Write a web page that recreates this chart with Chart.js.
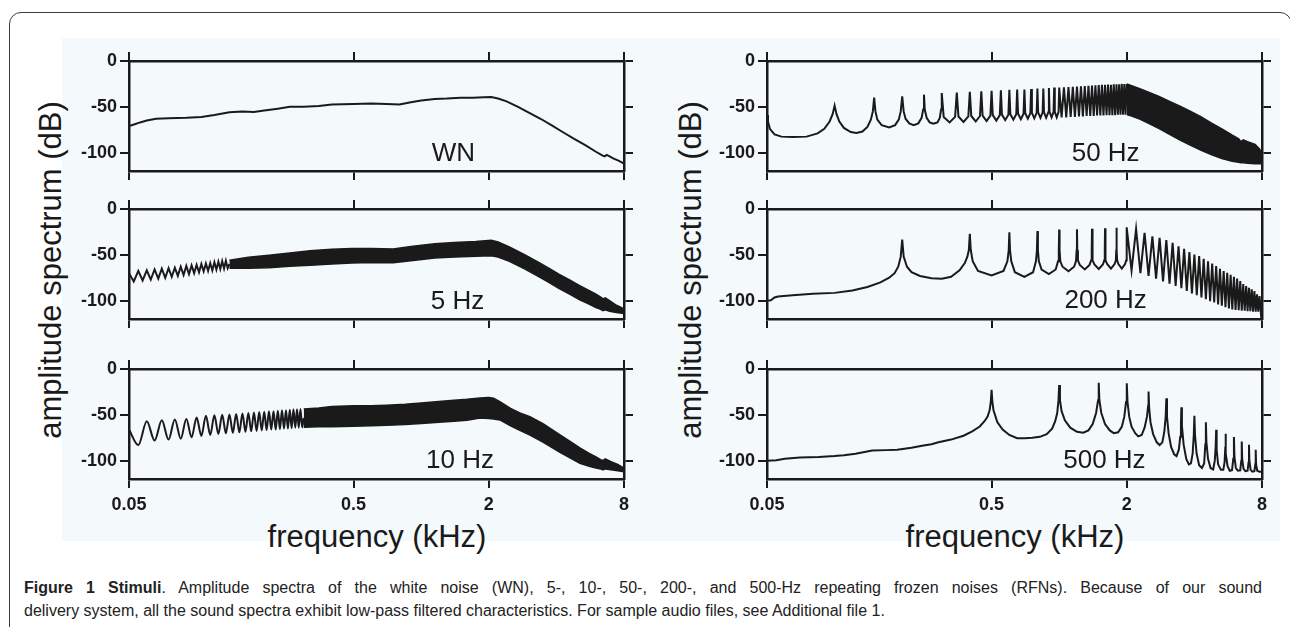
<!DOCTYPE html>
<html>
<head>
<meta charset="utf-8">
<script src="https://cdn.jsdelivr.net/npm/chart.js@4.4.1/dist/chart.umd.min.js"></script>
<style>
  body { margin:0; width:1290px; height:627px; overflow:hidden; background:#fff; position:relative;
         font-family:'Liberation Sans', Arial, sans-serif; }
  #frame { position:absolute; left:9px; top:12px; width:1283px; height:700px; box-sizing:border-box;
           border:1.5px solid #3c3c3c; border-radius:12px; }
  #figbg { position:absolute; left:62px; top:38px; width:1218px; height:503px; background:#f4f9fc; }
  canvas { position:absolute; }
  .ytitle { position:absolute; top:270px; font-size:31px; line-height:31px; color:#1a1a1a; white-space:nowrap;
            transform:translate(-50%,-50%) rotate(-90deg); }
  .xtitle { position:absolute; top:521px; font-size:31px; line-height:31px; color:#1a1a1a; white-space:nowrap;
            transform:translateX(-50%); }
  #caption { position:absolute; left:24px; top:576px; width:1238px; color:#222;
             font-family:'Liberation Sans Narrow','Liberation Sans',Arial,sans-serif; font-size:16px; line-height:23px; }
  #caption .l1 { text-align:justify; text-align-last:justify; }
</style>
</head>
<body>
<div id="frame"></div>
<div id="figbg"></div>
<div class="ytitle" style="left:50px">amplitude spectrum (dB)</div>
<div class="ytitle" style="left:690px">amplitude spectrum (dB)</div>
<div class="xtitle" style="left:377px">frequency (kHz)</div>
<div class="xtitle" style="left:1015px">frequency (kHz)</div>
<div id="caption">
  <div class="l1"><b>Figure 1 Stimuli</b>. Amplitude spectra of the white noise (WN), 5-, 10-, 50-, 200-, and 500-Hz repeating frozen noises (RFNs). Because of our sound</div>
  <div>delivery system, all the sound spectra exhibit low-pass filtered characteristics. For sample audio files, see Additional file 1.</div>
</div>
<script>
// axis ticks
const xTickValues = [0.05, 0.5, 2, 8];
const xTickLabels = ['0.05', '0.5', '2', '8'];
const yTickValues = [-100, -50, 0];
const yTickLabels = ['-100', '-50', '0'];

// white noise (kHz / dB)
const wnFreq = [0.05, 0.053, 0.056, 0.06, 0.066, 0.075, 0.09, 0.105, 0.12, 0.14, 0.16, 0.18, 0.2, 0.23, 0.26, 0.3,
  0.35, 0.4, 0.5, 0.6, 0.7, 0.8, 0.9, 1.0, 1.15, 1.3, 1.5, 1.7, 1.9, 2.05, 2.2, 2.4, 2.7, 3.0, 3.4, 3.8,
  4.3, 4.8, 5.4, 6.0, 6.4, 6.55, 6.7, 6.9, 7.2, 7.6, 8.0];
const wnDb = [-71, -69, -67, -65, -63, -62.5, -62, -61, -59, -56, -55, -55.5, -54, -52, -50, -50,
  -49, -47.5, -47, -46.5, -47, -47.5, -45, -43, -41.5, -41, -40, -40, -39.5, -39.3, -41, -44, -50, -56, -63, -70,
  -78, -85, -92, -99, -103, -104, -102.5, -104, -106.5, -109, -112];

// 5 Hz RFN: resolved low harmonics, then dense band
const hz5Freq = [0.05, 0.0525, 0.055, 0.0575, 0.06, 0.0625, 0.065, 0.0675, 0.07, 0.0725,
  0.075, 0.0775, 0.08, 0.0825, 0.085, 0.0875, 0.09, 0.0925, 0.095, 0.0975,
  0.1, 0.1025, 0.105, 0.1075, 0.11, 0.1125, 0.115, 0.1175, 0.12, 0.1225,
  0.125, 0.1275, 0.13, 0.1325, 0.135, 0.1375, 0.14];
const hz5Db = [-70, -79, -67.5, -78, -67, -77, -66, -76, -65, -75,
  -64.5, -74, -64, -73, -63, -72, -62, -71, -61.5, -70,
  -61, -69, -60, -68, -59.5, -67.5, -59, -67, -58, -66,
  -57.5, -65.5, -57, -65, -56.5, -64.5, -60];
const hz5BandFreq = [0.14, 0.17, 0.21, 0.26, 0.32, 0.4, 0.49, 0.6, 0.75, 0.9,
  1.15, 1.4, 1.75, 2.05, 2.2, 2.47, 2.9, 3.32, 3.7, 4.1,
  4.6, 5.08, 5.5, 6.0, 6.3, 6.45, 6.6, 6.9, 7.4, 8.0];
const hz5BandTop = [-56, -52.5, -50.5, -48, -45.5, -44, -43, -43, -43.5, -41,
  -38, -36.5, -35.5, -34, -36, -41.5, -50, -58, -64.5, -71,
  -77.5, -83.5, -88, -93, -96, -98, -97, -100, -105, -109];
const hz5BandBottom = [-64.5, -64.5, -64, -62.5, -61.5, -60, -59, -58.5, -58.5, -56.5,
  -53.5, -52.5, -51.5, -51, -52.5, -57, -65.5, -73.5, -80, -86.5,
  -93, -99, -103, -107.5, -109.5, -111, -110, -111.5, -113, -114];

// 10 Hz RFN
const hz10Freq = [0.05, 0.055, 0.06, 0.065, 0.07, 0.075, 0.08, 0.085, 0.09, 0.095,
  0.1, 0.105, 0.11, 0.115, 0.12, 0.125, 0.13, 0.135, 0.14, 0.145,
  0.15, 0.155, 0.16, 0.165, 0.17, 0.175, 0.18, 0.185, 0.19, 0.195,
  0.2, 0.205, 0.21, 0.215, 0.22, 0.225, 0.23, 0.235, 0.24, 0.245,
  0.25, 0.255, 0.26, 0.265, 0.27, 0.275, 0.28, 0.285, 0.29, 0.295,
  0.3];
const hz10Db = [-66, -83, -57, -78, -56, -77, -55, -76, -54.5, -74.5,
  -53, -73, -51, -72, -50.5, -71, -50, -70, -49.5, -69.5,
  -49, -69, -48.5, -68.5, -48, -68, -47.5, -67.5, -47, -67,
  -46.5, -66.5, -46, -66, -46, -66, -45.5, -65.5, -45, -65,
  -45, -65, -44.5, -64.5, -44, -64, -44, -64, -43.5, -63.5,
  -53.5];
const hz10BandFreq = [0.3, 0.35, 0.4, 0.5, 0.6, 0.7, 0.85, 1.0, 1.2, 1.4,
  1.6, 1.83, 2.0, 2.1, 2.24, 2.5, 2.75, 3.05, 3.5, 4.15,
  4.6, 5.09, 5.6, 6.0, 6.3, 6.45, 6.6, 7.0, 7.5, 8.0];
const hz10BandTop = [-43.5, -42.5, -41, -40, -40, -39.5, -38.5, -37, -35.5, -34,
  -33, -31.6, -31, -32, -35.6, -43, -48, -52, -60, -72,
  -79, -86, -92, -96, -99, -100, -98, -101, -104, -108];
const hz10BandBottom = [-63.5, -63, -63, -62.5, -62, -61.5, -60.5, -59.5, -58, -57,
  -56, -53.4, -54, -54.5, -55.6, -62, -67, -72, -80, -91,
  -97, -103, -106, -108, -109, -110, -109, -110, -111, -112];

// 50 Hz RFN: harmonic comb up to 2 kHz, then dense band
const hz50Freq = [
  0.05, 0.0505, 0.0515, 0.054, 0.058, 0.065, 0.075, 0.084, 0.09, 0.095, 0.098,
  0.1, 0.102, 0.105, 0.11, 0.118, 0.125, 0.133, 0.14, 0.145, 0.148,
  0.15, 0.152, 0.155, 0.162, 0.175, 0.186, 0.193, 0.197,
  0.2, 0.203, 0.207, 0.215, 0.225, 0.236, 0.244, 0.248,
  0.25, 0.252, 0.257, 0.265, 0.275, 0.287, 0.294, 0.298,
  0.3, 0.306, 0.325, 0.344,
  0.35, 0.356, 0.375, 0.394,
  0.4, 0.406, 0.425, 0.444,
  0.45, 0.456, 0.475, 0.494,
  0.5, 0.506, 0.525, 0.544,
  0.55, 0.556, 0.575, 0.594,
  0.6, 0.606, 0.625, 0.644,
  0.65, 0.656, 0.675, 0.694,
  0.7, 0.706, 0.725, 0.744,
  0.75, 0.756, 0.775, 0.794,
  0.8, 0.806, 0.825, 0.844,
  0.85, 0.856, 0.875, 0.894,
  0.9, 0.906, 0.925, 0.944,
  0.95, 0.956, 0.975, 0.994,
  1.0, 1.025, 1.05, 1.075, 1.1, 1.125, 1.15, 1.175, 1.2, 1.225,
  1.25, 1.275, 1.3, 1.325, 1.35, 1.375, 1.4, 1.425, 1.45, 1.475,
  1.5, 1.525, 1.55, 1.575, 1.6, 1.625, 1.65, 1.675, 1.7, 1.725,
  1.75, 1.775, 1.8, 1.825, 1.85, 1.875, 1.9, 1.925, 1.95, 1.975,
  2.0];
const hz50Db = [
  -59, -66, -74, -80, -82.5, -83, -82.5, -79, -74, -66, -58,
  -48.7, -58, -66, -73, -77.5, -78.5, -77, -72, -64, -55,
  -40, -55, -64, -70, -72.5, -70, -64, -55,
  -38.5, -55, -63, -68, -70, -68, -62, -53,
  -36.7, -53, -62, -67, -68.5, -67, -62, -53,
  -35, -61, -67, -61,
  -34.5, -60.5, -66.5, -60.5,
  -33.5, -60, -66, -60,
  -33, -59.5, -65.5, -59.5,
  -32.5, -59, -65, -59,
  -32, -58.5, -64.5, -58.5,
  -31.5, -58, -64, -58,
  -31, -57.5, -63.5, -57.5,
  -31, -57, -63, -57,
  -30.5, -56.5, -62.5, -56.5,
  -30, -56, -62, -56,
  -30, -56, -62, -56,
  -29.5, -55.5, -61.5, -55.5,
  -29, -55.5, -61.5, -55.5,
  -29, -61.5, -28.8, -61.5, -28.5, -61, -28.3, -61, -28, -60.5,
  -27.6, -60.5, -27.3, -60, -27, -60, -26.8, -60, -26.5, -59.5,
  -26.2, -59.5, -26, -59.5, -26, -59, -25.8, -59, -26, -59,
  -25.5, -59, -25.5, -58.5, -25.3, -58.5, -25, -58.5, -25, -58.5,
  -25];
const hz50BandFreq = [2.0, 2.1, 2.27, 2.5, 2.8, 3.1, 3.47, 3.85, 4.29, 4.75,
  5.3, 5.9, 6.3, 6.45, 6.6, 6.9, 7.45, 7.8, 8.0];
const hz50BandTop = [-25, -27, -30, -34, -39, -44, -49.5, -55, -61, -67.5,
  -74, -81, -85, -88, -86, -88, -91, -96, -101];
const hz50BandBottom = [-58.5, -60, -63, -68, -74, -80, -86.5, -92, -97.5, -102,
  -106.5, -109.5, -110.5, -111, -111, -111.5, -112, -112, -112];

// 200 Hz RFN
const hz200Freq = [
  0.05, 0.052, 0.054, 0.056, 0.065, 0.08, 0.1, 0.12, 0.14, 0.16, 0.175, 0.185, 0.192, 0.197,
  0.2, 0.203, 0.21, 0.22, 0.24, 0.27, 0.3, 0.33, 0.36, 0.38, 0.39, 0.396,
  0.4, 0.404, 0.412, 0.435, 0.5, 0.565, 0.588, 0.596,
  0.6, 0.604, 0.612, 0.635, 0.7, 0.765, 0.788, 0.796,
  0.8, 0.804, 0.812, 0.835, 0.9, 0.965, 0.988, 0.996,
  1.0, 1.004, 1.012, 1.035, 1.1, 1.165, 1.188, 1.196,
  1.2, 1.204, 1.212, 1.235, 1.3, 1.365, 1.388, 1.396,
  1.4, 1.404, 1.412, 1.435, 1.5, 1.565, 1.588, 1.596,
  1.6, 1.604, 1.612, 1.635, 1.7, 1.765, 1.788, 1.796,
  1.8, 1.804, 1.812, 1.835, 1.9, 1.965, 1.988, 1.996,
  2.0, 2.1, 2.2, 2.3, 2.4, 2.5, 2.6, 2.7, 2.8, 2.9,
  3.0, 3.1, 3.2, 3.3, 3.4, 3.5, 3.6, 3.7, 3.8, 3.9,
  4.0, 4.1, 4.2, 4.3, 4.4, 4.5, 4.6, 4.7, 4.8, 4.9,
  5.0, 5.1, 5.2, 5.3, 5.4, 5.5, 5.6, 5.7, 5.8, 5.9,
  6.0, 6.1, 6.2, 6.3, 6.4, 6.5, 6.6, 6.7, 6.8, 6.9,
  7.0, 7.1, 7.2, 7.3, 7.4, 7.5, 7.6, 7.7, 7.8, 7.9,
  8.0];
const hz200Db = [
  -100, -99.5, -96.5, -95.5, -94, -92.5, -91.5, -89, -85, -80, -75, -70, -63, -52,
  -33.3, -52, -63, -69, -73, -75.5, -76, -74, -67, -59, -52, -45,
  -27, -45, -57, -67.5, -72.5, -67.5, -57, -45,
  -25.5, -45, -57, -69, -74, -69, -57, -45,
  -24, -45, -57, -66, -71, -66, -57, -45,
  -22.5, -45, -57, -63, -68, -63, -57, -45,
  -22, -45, -56, -61, -66, -61, -56, -45,
  -21.5, -45, -56, -60.5, -65.5, -60.5, -56, -45,
  -21, -45, -56, -60, -65, -60, -56, -45,
  -20.5, -45, -56, -60, -65, -60, -56, -45,
  -20, -67, -21.7, -70, -26, -73, -29.7, -76, -31.5, -79,
  -34, -81.5, -37, -84, -40.6, -86.5, -43.5, -89.5, -47, -92,
  -49.6, -94, -51.4, -96.5, -54.3, -98.5, -57, -100.5, -59.4, -102,
  -62.3, -104, -65.2, -105.5, -67.8, -107, -69.6, -108.5, -71.7, -109.5,
  -74, -110, -76, -110.5, -78.6, -111, -82, -111, -84, -111.5,
  -86, -111.5, -87.7, -112, -89.5, -112, -93, -112, -95, -112,
  -102];

// 500 Hz RFN
const hz500Freq = [
  0.05, 0.055, 0.06, 0.07, 0.085, 0.1, 0.11, 0.124, 0.147, 0.17, 0.19, 0.22, 0.245, 0.27, 0.29, 0.33, 0.375, 0.41, 0.443, 0.465, 0.48, 0.49, 0.496,
  0.5, 0.504, 0.51, 0.53, 0.56, 0.6, 0.65, 0.7, 0.76, 0.82, 0.88, 0.93, 0.96, 0.98, 0.993,
  1.0, 1.008, 1.025, 1.06, 1.12, 1.2, 1.28, 1.35, 1.41, 1.46, 1.49,
  1.5, 1.51, 1.54, 1.6, 1.68, 1.75, 1.83, 1.9, 1.95, 1.985,
  2.0, 2.015, 2.05, 2.1, 2.18, 2.25, 2.33, 2.4, 2.46, 2.49,
  2.5, 2.515, 2.55, 2.62, 2.72, 2.8, 2.88, 2.94, 2.98,
  3.0, 3.02, 3.07, 3.15, 3.25, 3.33, 3.41, 3.46, 3.485,
  3.5, 3.52, 3.58, 3.68, 3.78, 3.86, 3.93, 3.975,
  4.0, 4.025, 4.09, 4.2, 4.32, 4.42, 4.475,
  4.5, 4.525, 4.6, 4.72, 4.85, 4.93, 4.975,
  5.0, 5.025, 5.1, 5.25, 5.38, 5.45, 5.48,
  5.5, 5.53, 5.62, 5.75, 5.88, 5.96,
  6.0, 6.03, 6.12, 6.25, 6.4, 6.47,
  6.5, 6.53, 6.62, 6.75, 6.9, 6.97,
  7.0, 7.03, 7.12, 7.25, 7.4, 7.47,
  7.5, 7.53, 7.62, 7.8, 8.0];
const hz500Db = [
  -100, -99.5, -98, -96.5, -96, -95, -94, -92.4, -89, -88.5, -88, -86, -83.7, -82, -80, -77, -72.8, -68, -62.7, -57, -51.8, -45, -36,
  -22.8, -36, -45, -58, -66, -72, -75.5, -75.5, -75, -74, -71, -65, -57, -48, -34,
  -17.4, -34, -46, -56, -64, -68.5, -69.5, -67, -60, -48, -34,
  -15, -34, -48, -60, -67, -70, -69, -63, -52, -36,
  -15.6, -36, -52, -63, -70, -73.5, -72, -64, -52, -40,
  -24.6, -42, -58, -71, -80, -83, -80, -68, -52,
  -31.9, -52, -70, -85, -93, -95, -88, -74, -60,
  -41.7, -62, -82, -98, -104, -103, -92, -72,
  -51, -72, -92, -105, -108, -103, -82,
  -58, -80, -98, -108, -109.5, -100, -85,
  -66.3, -88, -104, -110, -110, -102, -90,
  -70.7, -92, -106, -111, -110.5, -98,
  -74.3, -96, -108, -111, -110.5, -100,
  -79, -98, -109, -111.5, -111, -102,
  -82.6, -100, -110, -112, -111.5, -104,
  -88, -104, -111, -112, -112];

const INK = '#1a1a1a';
const FONT = "'Liberation Sans', Arial, sans-serif";

function pts(freqs, dbs) {
  return freqs.map((f, i) => ({ x: f, y: dbs[i] }));
}

function lineSet(freqs, dbs, smooth) {
  return {
    data: pts(freqs, dbs), borderColor: INK, borderWidth: 2, pointRadius: 0, fill: false,
    cubicInterpolationMode: smooth ? 'monotone' : 'default', tension: 0
  };
}

// upper and lower edge of the unresolved harmonics, filled between
function bandSets(freqs, tops, bottoms) {
  return [
    { data: pts(freqs, tops), borderColor: INK, backgroundColor: INK, borderWidth: 1.5, pointRadius: 0, fill: '+1' },
    { data: pts(freqs, bottoms), borderColor: INK, borderWidth: 1.5, pointRadius: 0, fill: false }
  ];
}

function panelLabel(text, f, db) {
  return {
    id: 'panelLabel',
    afterDatasetsDraw(chart) {
      const ctx = chart.ctx;
      ctx.save();
      ctx.font = '26px ' + FONT;
      ctx.fillStyle = INK;
      ctx.textAlign = 'center';
      ctx.textBaseline = 'middle';
      ctx.fillText(text, chart.scales.x.getPixelForValue(f), chart.scales.y.getPixelForValue(db));
      ctx.restore();
    }
  };
}

function scaleOpts(showX) {
  const grid = { drawOnChartArea: false, drawTicks: true, tickLength: 9, tickWidth: 2, tickColor: INK, color: INK, lineWidth: 2 };
  const border = { display: true, color: INK, width: 2.5 };
  const tickFont = { family: FONT, size: 18, weight: 'bold' };
  const setX = s => { s.ticks = xTickValues.map(v => ({ value: v })); };
  const setY = s => { s.ticks = yTickValues.map(v => ({ value: v })); };
  return {
    x: {
      type: 'logarithmic', position: 'bottom', min: 0.05, max: 8, grid, border, afterBuildTicks: setX,
      ticks: { display: showX, font: tickFont, color: INK, padding: 6, maxRotation: 0, autoSkip: false,
               callback: (v, i) => xTickLabels[i] },
      afterFit: s => { s.height = showX ? 40 : 14; }
    },
    xTop: {
      type: 'logarithmic', position: 'top', min: 0.05, max: 8, grid, border, afterBuildTicks: setX,
      ticks: { display: false }, afterFit: s => { s.height = 14; }
    },
    y: {
      type: 'linear', position: 'left', min: -120, max: 0, grid, border, afterBuildTicks: setY,
      ticks: { font: tickFont, color: INK, padding: 3, callback: (v, i) => yTickLabels[i] },
      afterFit: s => { s.width = 60; }
    },
    yRight: {
      type: 'linear', position: 'right', min: -120, max: 0, grid, border, afterBuildTicks: setY,
      ticks: { display: false }, afterFit: s => { s.width = 25; }
    }
  };
}

function makePanel(left, top, showX, datasets, label) {
  const canvas = document.createElement('canvas');
  const w = 580, h = showX ? 164 : 138;
  canvas.width = w; canvas.height = h;
  canvas.style.left = left + 'px';
  canvas.style.top = top + 'px';
  canvas.style.width = w + 'px';
  canvas.style.height = h + 'px';
  document.body.appendChild(canvas);
  new Chart(canvas.getContext('2d'), {
    type: 'line',
    data: { datasets },
    options: {
      responsive: false, animation: false, devicePixelRatio: 1,
      layout: { padding: 0 },
      plugins: { legend: { display: false }, tooltip: { enabled: false } },
      scales: scaleOpts(showX)
    },
    plugins: [panelLabel(label[0], label[1], label[2])]
  });
}

makePanel(69, 47, false, [lineSet(wnFreq, wnDb)], ['WN', 1.39, -101]);
makePanel(69, 195, false, [lineSet(hz5Freq, hz5Db), ...bandSets(hz5BandFreq, hz5BandTop, hz5BandBottom)], ['5 Hz', 1.45, -101.5]);
makePanel(69, 355, true, [lineSet(hz10Freq, hz10Db, true), ...bandSets(hz10BandFreq, hz10BandTop, hz10BandBottom)], ['10 Hz', 1.49, -100.5]);
makePanel(707, 47, false, [lineSet(hz50Freq, hz50Db), ...bandSets(hz50BandFreq, hz50BandTop, hz50BandBottom)], ['50 Hz', 1.61, -101]);
makePanel(707, 195, false, [lineSet(hz200Freq, hz200Db)], ['200 Hz', 1.61, -100.5]);
makePanel(707, 355, true, [lineSet(hz500Freq, hz500Db)], ['500 Hz', 1.59, -100.5]);
</script>
</body>
</html>
